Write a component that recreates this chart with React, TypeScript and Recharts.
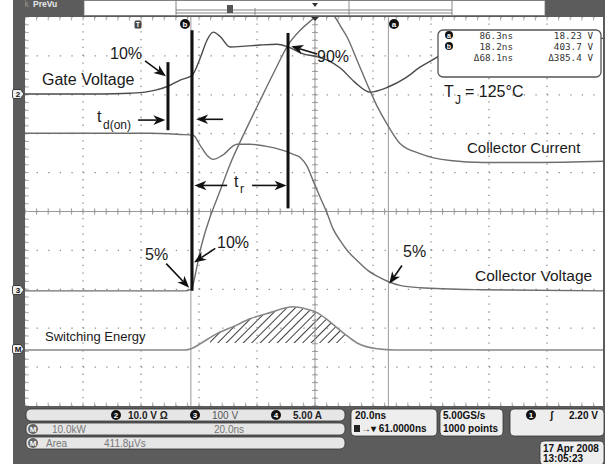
import { Area, ComposedChart, Line, ReferenceLine, XAxis, YAxis } from "recharts";

// time in ns (0 = trigger point), level in screen divisions (0 = centre line)
type Pt = [number, number];

const gateVoltage: Pt[] = [
  [-39, 3.02], [-27, 3.02], [-13, 3.02], [-3, 3.04], [2.4, 3.07], [6, 3.12],
  [10.3, 3.22], [14.5, 3.38], [18.6, 3.5], [21.4, 3.94], [23.8, 4.41], [25.9, 4.61],
  [28.3, 4.5], [31.7, 4.23], [36.9, 4.25], [42.1, 4.28], [47.9, 4.3], [51.7, 4.23],
  [56.9, 4.05], [61, 3.99], [65.2, 3.89], [69.7, 3.69], [74.8, 3.32], [80, 3.07],
  [86.2, 3.2], [92.1, 3.43], [97.2, 3.71], [103.1, 3.97], [107.6, 4.2], [114.5, 4.38],
  [124.8, 4.45], [161, 4.45],
];

const collectorVoltage: Pt[] = [
  [-39, 2.01], [-13, 2.01], [4, 2.01], [14.5, 1.98], [19, 1.96], [21.4, 1.7],
  [23.8, 1.44], [25.9, 1.34], [29, 1.44], [34.1, 1.73], [38.6, 1.73], [43.8, 1.68],
  [50, 1.57], [53.4, 1.47], [55.9, 1.39], [58.3, 1.16], [60.3, 0.8], [62.8, 0.36],
  [65.2, -0.05], [67.2, -0.44], [69.7, -0.75], [72.4, -1.03], [75.5, -1.26],
  [79.3, -1.52], [83.4, -1.7], [86.2, -1.8], [90.3, -1.9], [97.2, -1.96],
  [117.9, -2.01], [161, -2.04],
];

const collectorCurrent: Pt[] = [
  [-39, -2.04], [-6, -2.04], [16.2, -2.04], [17.9, -2.01], [18.6, -1.96], [20, -1.52],
  [21.4, -1.01], [23.1, -0.54], [24.8, -0.15], [28.3, 0.54], [31.7, 1.21], [36.9, 2.06],
  [42.1, 2.86], [47.2, 3.63], [51.7, 4.28], [55.9, 4.66], [61, 5.0], [63.4, 5.18],
  [65.5, 5.21], [67.9, 5.0], [70, 4.74], [72.1, 4.48], [75.5, 3.89], [79, 3.27],
  [82.4, 2.71], [85.9, 2.24], [90.3, 1.75], [97.2, 1.49], [107.6, 1.31], [119, 1.26],
  [136.2, 1.26], [161, 1.29],
];

const switchingEnergy: Pt[] = [
  [-39, -3.56], [16.2, -3.56], [18.3, -3.53], [21.4, -3.4], [27.2, -3.14], [33.4, -2.94],
  [38.6, -2.76], [45.5, -2.6], [53.4, -2.45], [57.6, -2.5], [61.7, -2.6], [65.2, -2.78],
  [68.6, -2.99], [72.1, -3.2], [75.5, -3.38], [79, -3.48], [82.4, -3.53], [88.6, -3.56],
  [161, -3.56],
];

// hatched part of the energy curve
const energyHatch: Pt[] = [
  [24.8, -3.25], [27.2, -3.14], [33.4, -2.94], [38.6, -2.76], [45.5, -2.6], [53.4, -2.45],
  [57.6, -2.5], [61.7, -2.6], [65.2, -2.78], [68.6, -2.99], [71.4, -3.16],
];
const HATCH_BASE = -3.38;

const cursorA = 86.3;
const cursorB = 18.2;
const cursorRows = [
  ["a", "86.3ns", "18.23 V"],
  ["b", "18.2ns", "403.7 V"],
  ["", "\u039468.1ns", "\u0394385.4 V"],
];

// thick black marker bars: [time, top, bottom]
const markerBars: [number, number, number][] = [
  [10.3, 3.84, 2.09],
  [18.6, 4.66, -2.04],
  [51.7, 4.59, 0.08],
];

// arrows: tail -> head
const arrows: [Pt, Pt][] = [
  [[2.4, 3.87], [9.6, 3.48]],
  [[0, 2.35], [9.4, 2.35]],
  [[29.3, 2.37], [20.0, 2.37]],
  [[30.7, 0.67], [19.4, 0.67]],
  [[39.3, 0.67], [51.2, 0.67]],
  [[61.7, 4.05], [52.8, 4.25]],
  [[26.6, -0.95], [19.3, -1.31]],
  [[9.7, -1.34], [17.6, -1.96]],
  [[91.0, -1.39], [86.6, -1.86]],
];

const X_DOMAIN: [number, number] = [-39, 161];
const majorX = Array.from({ length: 11 }, (_, i) => -39 + i * 20);
const majorY = Array.from({ length: 11 }, (_, i) => -5 + i);
const minorX = Array.from({ length: 51 }, (_, i) => -39 + i * 4);
const minorY = Array.from({ length: 51 }, (_, i) => +(-5 + i * 0.2).toFixed(2));

const toRows = (pts: Pt[]) => pts.map(([t, v]) => ({ t, v }));

const BEZEL = "#5c5c5c";
const GRID = "#8c8c8c";
const SANS = "'Liberation Sans', Arial, sans-serif";
const MONO = "'DejaVu Sans Mono', monospace";

function arrowShape(p: any) {
  const { x1, y1, x2, y2 } = p;
  const dx = x2 - x1;
  const dy = y2 - y1;
  const len = Math.hypot(dx, dy) || 1;
  const ux = dx / len;
  const uy = dy / len;
  const hl = 12;
  const hw = 4.8;
  const bx = x2 - ux * hl;
  const by = y2 - uy * hl;
  const nx = x2 - ux * hl * 0.72;
  const ny = y2 - uy * hl * 0.72;
  const pts = `${x2},${y2} ${bx - uy * hw},${by + ux * hw} ${nx},${ny} ${bx + uy * hw},${by - ux * hw}`;
  return (
    <g>
      <line x1={x1} y1={y1} x2={nx} y2={ny} stroke="#111" strokeWidth={1.6} />
      <polygon points={pts} fill="#111" />
    </g>
  );
}

function ChannelTag({ y, label }: { y: number; label: string }) {
  return (
    <g>
      <path
        d={`M14,${y - 4.5} h6.5 l3.5,4.5 l-3.5,4.5 h-6.5 a1.5,1.5 0 0 1 -1.5,-1.5 v-6 a1.5,1.5 0 0 1 1.5,-1.5 z`}
        fill="#eee"
        stroke="#222"
        strokeWidth={0.8}
      />
      <text x={18} y={y + 3} fontSize={8} fontWeight="bold" fill="#111" textAnchor="middle" fontFamily={SANS}>
        {label}
      </text>
    </g>
  );
}

function Badge({ x, y, label, fill = "#111" }: { x: number; y: number; label: string; fill?: string }) {
  return (
    <g>
      <circle cx={x} cy={y} r={5} fill={fill} />
      <text x={x} y={y + 3} fontSize={8} fontWeight="bold" fill="#fff" textAnchor="middle" fontFamily={SANS}>
        {label}
      </text>
    </g>
  );
}

function Bezel() {
  return (
    <svg width={605} height={464} style={{ position: "absolute", left: 0, top: 0, pointerEvents: "none" }}>
      {/* top strip */}
      <rect x={13} y={0} width={592} height={17} fill={BEZEL} />
      <text x={14} y={7} fontSize={9} fontWeight="bold" fill="#8a8a8a" fontFamily={SANS}>Tek</text>
      <text x={33} y={7} fontSize={8.5} fontWeight="bold" fill="#e8e8e8" fontFamily={SANS}>PreVu</text>
      <rect x={84} y={0.5} width={461} height={15} fill="#fff" stroke="#777" strokeWidth={0.8} />
      <line x1={176} y1={10} x2={452} y2={10} stroke="#666" strokeWidth={0.8} />
      <line x1={176} y1={13} x2={452} y2={13} stroke="#666" strokeWidth={0.8} />
      <line x1={176} y1={1} x2={176} y2={15} stroke="#666" strokeWidth={0.8} />
      <line x1={452} y1={1} x2={452} y2={15} stroke="#666" strokeWidth={0.8} />
      <line x1={255} y1={8} x2={255} y2={15} stroke="#777" strokeWidth={0.8} />
      <line x1={349} y1={1} x2={349} y2={15} stroke="#777" strokeWidth={0.8} />
      <rect x={227} y={5} width={6} height={8} fill="#555" />
      <polygon points="312,3 318,3 315,7" fill="#333" />
      {/* left strip + right edge */}
      <rect x={13} y={0} width={12} height={464} fill={BEZEL} />
      <rect x={603} y={17} width={2} height={390} fill={BEZEL} />
      {/* bottom strip */}
      <rect x={13} y={406} width={592} height={58} fill={BEZEL} />

      <ChannelTag y={94} label="2" />
      <ChannelTag y={290} label="3" />
      <ChannelTag y={349} label="M" />

      {/* trigger + cursor icons */}
      <polygon points="311,17 319,17 315,21" fill="#333" />
      <rect x={134.5} y={20.5} width={7} height={8} rx={1.5} fill="#444" />
      <text x={138} y={27} fontSize={7} fontWeight="bold" fill="#fff" textAnchor="middle" fontFamily={SANS}>T</text>
      <Badge x={185} y={24} label="b" />
      <Badge x={394} y={24} label="a" />

      {/* cursor readout */}
      <rect x={438} y={30} width={163} height={47} rx={5} fill="#fff" stroke="#555" strokeWidth={1.3} />
      {cursorRows.map(([tag, tv, vv], i) => (
        <g key={i}>
          {tag && (
            <g>
              <circle cx={449} cy={35 + i * 11} r={4} fill="#111" />
              <text x={449} y={37.5 + i * 11} fontSize={7} fontWeight="bold" fill="#fff" textAnchor="middle" fontFamily={SANS}>{tag}</text>
            </g>
          )}
          <text x={513} y={39 + i * 11} fontSize={9.3} fill="#333" textAnchor="end" fontFamily={MONO}>{tv}</text>
          <text x={593} y={39 + i * 11} fontSize={9.3} fill="#333" textAnchor="end" fontFamily={MONO}>{vv}</text>
        </g>
      ))}

      {/* annotation text */}
      <g fontFamily={SANS} fill="#1a1a1a">
        <text x={110} y={59} fontSize={16}>10%</text>
        <text x={42} y={85} fontSize={16}>Gate Voltage</text>
        <text x={97} y={122} fontSize={16}>t</text>
        <text x={103} y={129} fontSize={12}>d(on)</text>
        <text x={234} y={187} fontSize={16}>t</text>
        <text x={240} y={193} fontSize={12}>r</text>
        <text x={317} y={62} fontSize={16}>90%</text>
        <text x={217} y={248} fontSize={16}>10%</text>
        <text x={145} y={260} fontSize={16}>5%</text>
        <text x={403} y={257} fontSize={16}>5%</text>
        <text x={467} y={153} fontSize={15}>Collector Current</text>
        <text x={475} y={281} fontSize={15.5}>Collector Voltage</text>
        <text x={45} y={341} fontSize={13}>Switching Energy</text>
        <text x={444} y={97} fontSize={16}>T</text>
        <text x={455} y={104} fontSize={12}>J</text>
        <text x={465} y={97} fontSize={16}>= 125°C</text>
      </g>

      {/* bottom readouts */}
      <g fontFamily={SANS} fontSize={10}>
        <rect x={26} y={409} width={319} height={12} rx={5} fill="#e6e6e6" stroke="#333" strokeWidth={0.8} />
        <Badge x={116} y={415} label="2" />
        <text x={128} y={419} fontWeight="bold" fill="#222">10.0 V Ω</text>
        <Badge x={195} y={415} label="3" />
        <text x={212} y={419} fill="#555">100 V</text>
        <Badge x={276} y={415} label="4" />
        <text x={293} y={419} fontWeight="bold" fill="#222">5.00 A</text>

        <rect x={26} y={423} width={319} height={12} rx={5} fill="#e6e6e6" stroke="#333" strokeWidth={0.8} />
        <Badge x={33} y={429} label="M" fill="#666" />
        <text x={52} y={433} fill="#777">10.0kW</text>
        <text x={214} y={433} fill="#777">20.0ns</text>

        <rect x={26} y={437} width={319} height={12} rx={5} fill="#e6e6e6" stroke="#333" strokeWidth={0.8} />
        <Badge x={33} y={443} label="M" fill="#666" />
        <text x={46} y={447} fill="#777">Area</text>
        <text x={104} y={447} fill="#777">411.8µVs</text>

        <rect x={351} y={409} width={86} height={27} rx={4} fill="#eee" stroke="#333" strokeWidth={0.8} />
        <text x={355} y={419} fontWeight="bold" fill="#111">20.0ns</text>
        <rect x={354} y={425} width={6} height={7} fill="#222" />
        <text x={361} y={432} fontWeight="bold" fill="#111">→▾ 61.0000ns</text>

        <rect x={440} y={409} width={63} height={27} rx={4} fill="#eee" stroke="#333" strokeWidth={0.8} />
        <text x={443} y={419} fontWeight="bold" fill="#111">5.00GS/s</text>
        <text x={443} y={432} fontWeight="bold" fill="#111">1000 points</text>

        <rect x={510} y={409} width={94} height={27} rx={4} fill="#eee" stroke="#333" strokeWidth={0.8} />
        <Badge x={531} y={415} label="1" />
        <text x={550} y={419} fontWeight="bold" fill="#111">ʃ</text>
        <text x={569} y={419} fontWeight="bold" fill="#111">2.20 V</text>

        <rect x={540} y={441} width={64} height={24} rx={4} fill="#eee" stroke="#333" strokeWidth={0.8} />
        <text x={543} y={452} fontWeight="bold" fill="#111">17 Apr 2008</text>
        <text x={543} y={462} fontWeight="bold" fill="#111">13:05:23</text>
      </g>
    </svg>
  );
}

export default function App() {
  return (
    <div style={{ position: "absolute", left: 0, top: 0, width: 605, height: 464, background: "#fff", overflow: "hidden" }}>
      <div style={{ position: "absolute", left: 0, top: 0 }}>
        <ComposedChart width={605} height={464} margin={{ top: 17, right: 0, bottom: 58, left: 25 }}>
          <defs>
            <pattern id="hatch" width={6} height={6} patternUnits="userSpaceOnUse" patternTransform="rotate(45)">
              <line x1={0} y1={0} x2={0} y2={6} stroke="#1a1a1a" strokeWidth={1.7} />
            </pattern>
          </defs>
          <rect x={25} y={17} width={580} height={389} fill="#fff" />
          <XAxis type="number" dataKey="t" domain={X_DOMAIN} allowDataOverflow hide />
          <YAxis type="number" dataKey="v" domain={[-5, 5]} allowDataOverflow hide />

          {/* dotted graticule */}
          {majorY.map((v) => (
            <ReferenceLine key={`gy${v}`} y={v} stroke={GRID} strokeWidth={1.3} strokeDasharray="1.3 10.3" />
          ))}
          {majorX.map((t) => (
            <ReferenceLine key={`gx${t}`} x={t} stroke={GRID} strokeWidth={1.3} strokeDasharray="1.3 6.48" />
          ))}
          <ReferenceLine y={0} stroke="#999" strokeWidth={1} />
          <ReferenceLine x={61} stroke="#999" strokeWidth={1} />
          {minorX.map((t) => (
            <ReferenceLine key={`cx${t}`} segment={[{ x: t, y: -0.08 }, { x: t, y: 0.08 }]} stroke="#999" />
          ))}
          {minorY.map((v) => (
            <ReferenceLine key={`cy${v}`} segment={[{ x: 60, y: v }, { x: 62, y: v }]} stroke="#999" />
          ))}
          {minorX.map((t) => (
            <ReferenceLine key={`tx${t}`} segment={[{ x: t, y: 5 }, { x: t, y: 4.91 }]} stroke="#aaa" />
          ))}
          {minorX.map((t) => (
            <ReferenceLine key={`bx${t}`} segment={[{ x: t, y: -5 }, { x: t, y: -4.91 }]} stroke="#aaa" />
          ))}
          {minorY.map((v) => (
            <ReferenceLine key={`ly${v}`} segment={[{ x: -39, y: v }, { x: -37.7, y: v }]} stroke="#aaa" />
          ))}

          {/* cursors */}
          <ReferenceLine x={cursorB} stroke="#999" strokeWidth={1} />
          <ReferenceLine x={cursorA} stroke="#999" strokeWidth={1} />

          <Area
            data={toRows(energyHatch)}
            dataKey="v"
            type="monotone"
            baseValue={HATCH_BASE}
            stroke="none"
            fill="url(#hatch)"
            fillOpacity={1}
            isAnimationActive={false}
          />
          <Line data={toRows(switchingEnergy)} dataKey="v" type="monotone" stroke="#888" strokeWidth={1.6} dot={false} activeDot={false} isAnimationActive={false} />
          <Line data={toRows(collectorVoltage)} dataKey="v" type="monotone" stroke="#6e6e6e" strokeWidth={1.4} dot={false} activeDot={false} isAnimationActive={false} />
          <Line data={toRows(collectorCurrent)} dataKey="v" type="monotone" stroke="#6e6e6e" strokeWidth={1.4} dot={false} activeDot={false} isAnimationActive={false} />
          <Line data={toRows(gateVoltage)} dataKey="v" type="monotone" stroke="#4a4a4a" strokeWidth={1.4} dot={false} activeDot={false} isAnimationActive={false} />

          {/* annotation bars and arrows */}
          {markerBars.map(([t, top, bottom]) => (
            <ReferenceLine key={`m${t}`} segment={[{ x: t, y: top }, { x: t, y: bottom }]} stroke="#111" strokeWidth={3} />
          ))}
          {arrows.map(([a, b], i) => (
            <ReferenceLine
              key={`a${i}`}
              segment={[{ x: a[0], y: a[1] }, { x: b[0], y: b[1] }]}
              stroke="#111"
              shape={arrowShape}
            />
          ))}
        </ComposedChart>
      </div>
      <Bezel />
    </div>
  );
}
